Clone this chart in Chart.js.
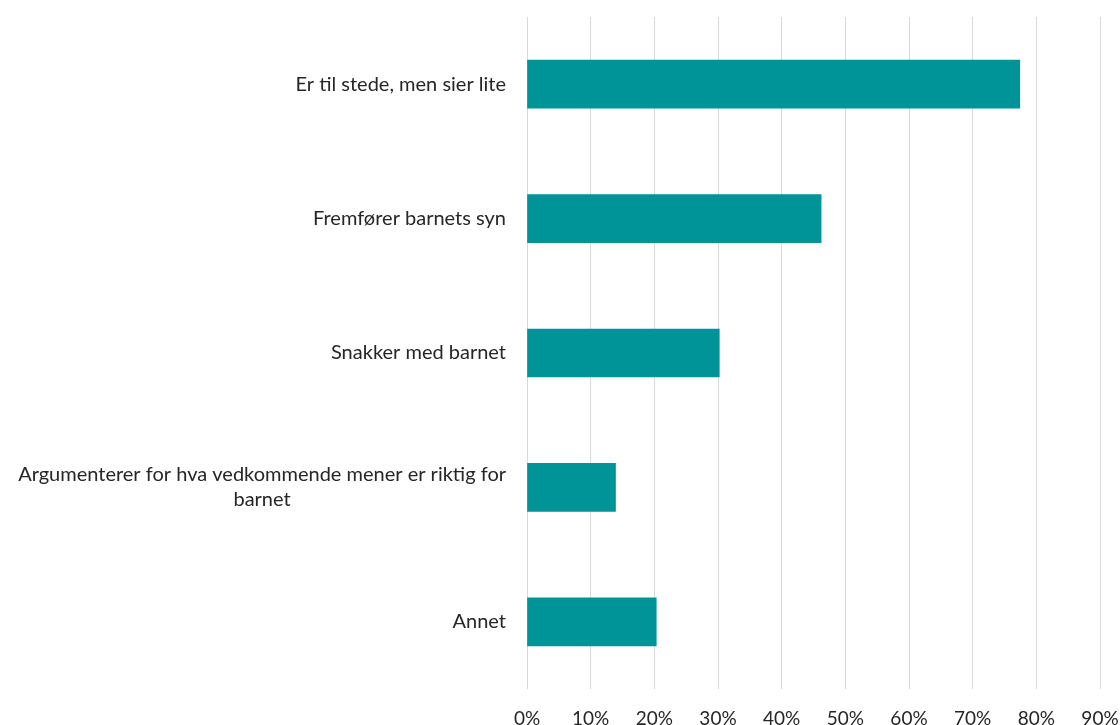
<!DOCTYPE html>
<html>
<head>
<meta charset="utf-8">
<script src="https://cdn.jsdelivr.net/npm/chart.js@4"></script>
<style>
    html, body { margin: 0; padding: 0; background: #ffffff; }
    #wrap { width: 1120px; height: 725px; }
</style>
</head>
<body>
<div id="wrap"><canvas id="rolleChart" width="1120" height="725"></canvas></div>
<script>
// Kategorier (flere linjer der teksten brytes)
const categories = [
    ['Er til stede, men sier lite'],
    ['Fremfører barnets syn'],
    ['Snakker med barnet'],
    ['Argumenterer for hva vedkommende mener er riktig for', 'barnet'],
    ['Annet']
];
const shares = [77.4, 46.2, 30.2, 13.9, 20.3];
const xTicks = [0, 10, 20, 30, 40, 50, 60, 70, 80, 90];

const textColor = '#262626';
const fontFamily = 'Lato, "Open Sans", sans-serif';

// Tegner kategoritekstene til venstre, linjene sentrert mot hverandre
const categoryLabels = {
    id: 'categoryLabels',
    afterDraw(chart) {
        const ctx = chart.ctx;
        const yScale = chart.scales.y;
        const rightEdge = chart.chartArea.left - 21;
        const lineHeight = 25;
        ctx.save();
        ctx.font = '20px ' + fontFamily;
        ctx.fillStyle = textColor;
        ctx.textBaseline = 'middle';
        ctx.textAlign = 'center';
        categories.forEach((lines, i) => {
            const yMid = yScale.getPixelForValue(i);
            const widest = Math.max(...lines.map(l => ctx.measureText(l).width));
            const cx = rightEdge - widest / 2;
            const y0 = yMid - (lines.length - 1) * lineHeight / 2;
            lines.forEach((line, j) => {
                ctx.fillText(line, cx, y0 + j * lineHeight);
            });
        });
        ctx.restore();
    }
};

const ctx = document.getElementById('rolleChart').getContext('2d');
const myChart = new Chart(ctx, {
    type: 'bar',
    data: {
        labels: categories.map(l => l.join(' ')),
        datasets: [{
            data: shares,
            backgroundColor: '#009398',
            barThickness: 48
        }]
    },
    options: {
        indexAxis: 'y',
        responsive: false,
        animation: false,
        layout: {
            padding: { top: 17, right: 0, left: 0, bottom: 0 }
        },
        plugins: {
            legend: { display: false },
            tooltip: { enabled: false }
        },
        scales: {
            x: {
                min: 0,
                max: 90,
                afterBuildTicks: (scale) => {
                    scale.ticks = xTicks.map(v => ({ value: v }));
                },
                afterFit: (scale) => {
                    scale.height = 36;
                    scale.paddingRight = 20;
                },
                border: { display: false },
                grid: {
                    color: '#d9d9d9',
                    lineWidth: 1,
                    drawTicks: false
                },
                ticks: {
                    padding: 18,
                    color: textColor,
                    font: { family: fontFamily, size: 19 },
                    maxRotation: 0,
                    callback: (v) => v + '%'
                }
            },
            y: {
                afterFit: (scale) => {
                    scale.width = 527;
                },
                border: { display: false },
                grid: { display: false },
                ticks: { display: false }
            }
        }
    },
    plugins: [categoryLabels]
});
</script>
</body>
</html>
